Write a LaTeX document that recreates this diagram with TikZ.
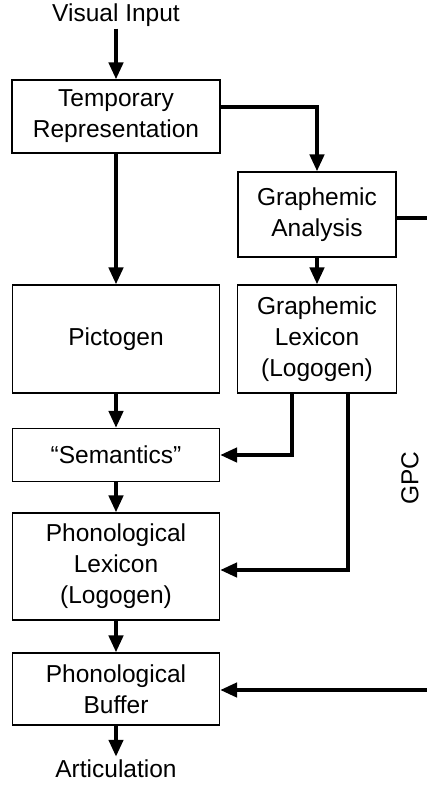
\documentclass[tikz,border=0pt]{standalone}
\usepackage{fontspec}
\setmainfont{Liberation Sans}
\usetikzlibrary{arrows.meta,calc}

\tikzset{
  box/.style={draw, line width=1.1pt, align=center, inner sep=0pt,
    font=\fontsize{24.5}{31}\selectfont},
  lbl/.style={inner sep=0pt, font=\fontsize{24.5}{31}\selectfont},
  flow/.style={line width=4.2pt,
    -{Triangle[length=17pt,width=14pt]}},
  plain/.style={line width=4.2pt},
}

\begin{document}
\begin{tikzpicture}[x=1pt,y=-1pt]
  \useasboundingbox (0,0) rectangle (427,791);
  \coordinate (edge) at (427,0);

  % labels at the ends of the route
  \node[lbl] (in) at (116,15) {Visual Input};
  \node[lbl] (out) at (116,769) {Articulation};

  % processing stages
  \node[box, minimum width=208pt, minimum height=73pt] (temp) at (116,116.5)
    {Temporary\\Representation};
  \node[box, minimum width=158pt, minimum height=85pt] (ga) at (317,214.5)
    {Graphemic\\Analysis};
  \node[box, minimum width=207pt, minimum height=108pt] (pict) at (116,339)
    {Pictogen};
  \node[box, minimum width=159pt, minimum height=108pt] (gl) at (317,339)
    {Graphemic\\Lexicon\\(Logogen)};
  \node[box, minimum width=207pt, minimum height=53pt] (sem) at (116,455)
    {“Semantics”};
  \node[box, minimum width=207pt, minimum height=107pt] (pl) at (116,566.5)
    {Phonological\\Lexicon\\(Logogen)};
  \node[box, minimum width=207pt, minimum height=72pt] (pb) at (116,689)
    {Phonological\\Buffer};

  % GPC route label
  \node[lbl, rotate=90] (gpc) at (410,478) {GPC};

  % main vertical route
  \draw[flow] ([yshift=-2pt]in.south) -- (temp.north);
  \draw[flow] (temp.south) -- (pict.north);
  \draw[flow] (pict.south) -- (sem.north);
  \draw[flow] (sem.south) -- (pl.north);
  \draw[flow] (pl.south) -- (pb.north);
  \draw[flow] (pb.south) -- ([yshift=3pt]out.north);

  % graphemic route
  \draw[flow] ([yshift=9.5pt]temp.east) -| (ga.north);
  \draw[flow] (ga.south) -- (gl.north);
  \draw[flow] ([xshift=-25pt]gl.south) |- (sem.east);
  \draw[flow] ([xshift=31pt]gl.south) |- ([yshift=-3.5pt]pl.east);

  % GPC route along the right edge
  \draw[plain] ([yshift=-3.5pt]ga.east) -- ([yshift=-3.5pt]ga.east -| edge);
  \draw[flow] ([yshift=-1pt]pb.east -| edge) -- ([yshift=-1pt]pb.east);
\end{tikzpicture}
\end{document}
